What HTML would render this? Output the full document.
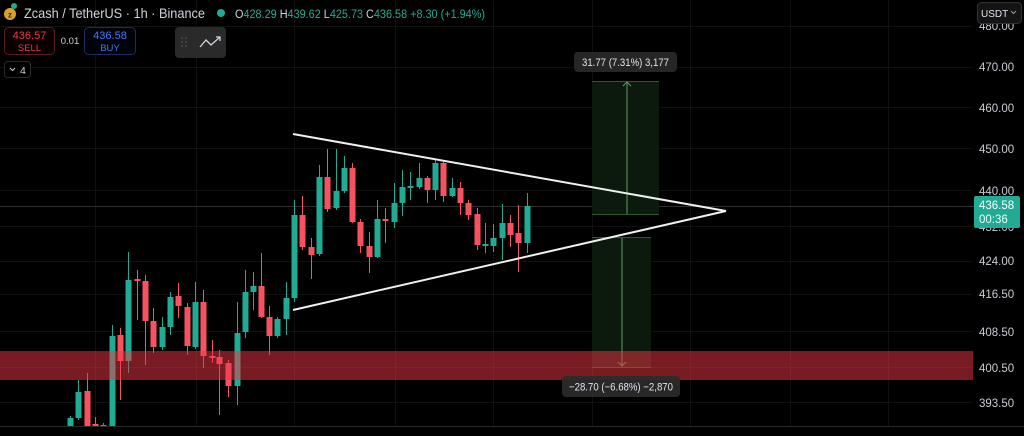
<!DOCTYPE html>
<html><head><meta charset="utf-8">
<style>
html,body{margin:0;padding:0;background:#000;}
body{width:1024px;height:436px;overflow:hidden;position:relative;font-family:"Liberation Sans",sans-serif;}
svg{position:absolute;left:0;top:0;}
.t{font-family:"Liberation Sans",sans-serif;}
</style></head>
<body>
<svg width="1024" height="436" viewBox="0 0 1024 436" xmlns="http://www.w3.org/2000/svg">
<rect width="1024" height="436" fill="#000"/>
<!-- grid -->
<g stroke="#101010" stroke-width="1">
<line x1="95.5" y1="0" x2="95.5" y2="426"/><line x1="196.5" y1="0" x2="196.5" y2="426"/>
<line x1="294.5" y1="0" x2="294.5" y2="426"/><line x1="395.5" y1="0" x2="395.5" y2="426"/>
<line x1="493.5" y1="0" x2="493.5" y2="426"/><line x1="592.5" y1="0" x2="592.5" y2="426"/>
<line x1="690.5" y1="0" x2="690.5" y2="426"/><line x1="790.5" y1="0" x2="790.5" y2="426"/>
<line x1="888.5" y1="0" x2="888.5" y2="426"/>
<line x1="0" y1="26.5" x2="972" y2="26.5"/><line x1="0" y1="67.5" x2="972" y2="67.5"/>
<line x1="0" y1="107.5" x2="972" y2="107.5"/><line x1="0" y1="148.5" x2="972" y2="148.5"/>
<line x1="0" y1="190.5" x2="972" y2="190.5"/><line x1="0" y1="226.5" x2="972" y2="226.5"/>
<line x1="0" y1="261.5" x2="972" y2="261.5"/><line x1="0" y1="294.5" x2="972" y2="294.5"/>
<line x1="0" y1="331.5" x2="972" y2="331.5"/><line x1="0" y1="367.5" x2="972" y2="367.5"/>
<line x1="0" y1="402.5" x2="972" y2="402.5"/>
</g>
<!-- price line -->
<line x1="0" y1="206.5" x2="974" y2="206.5" stroke="#2e2e2e" stroke-width="1"/>
<!-- candles -->
<g id="c"></g>
<!-- measure boxes -->
<rect x="592" y="81" width="67" height="133" fill="#0b1a0c"/>
<line x1="592" y1="81.5" x2="659" y2="81.5" stroke="#2c5a30"/>
<line x1="592" y1="214.5" x2="659" y2="214.5" stroke="#2c5a30"/>
<line x1="627" y1="82" x2="627" y2="214" stroke="#5e9a66"/>
<polyline points="623,86 627,82 631,86" fill="none" stroke="#5e9a66"/>
<rect x="592" y="237" width="59" height="130" fill="#0b1a0c"/>
<line x1="592" y1="237.5" x2="651" y2="237.5" stroke="#2c5a30"/>
<line x1="592" y1="367.5" x2="651" y2="367.5" stroke="#2c5a30"/>
<line x1="622" y1="238" x2="622" y2="366" stroke="#5e9a66"/>
<polyline points="618,362 622,366 626,362" fill="none" stroke="#5e9a66"/>
<!-- red zone -->
<rect x="0" y="351" width="973" height="29" fill="rgba(242,54,69,0.5)"/>
<!-- triangle -->
<line x1="293" y1="134" x2="726" y2="211" stroke="#f0f0f0" stroke-width="2"/>
<line x1="293" y1="310" x2="726" y2="211" stroke="#f0f0f0" stroke-width="2"/>
<!-- measure labels -->
<rect x="574" y="52" width="103" height="20" rx="4" fill="#262626"/>
<text x="582" y="66" font-size="11" fill="#e0e3eb" class="t" textLength="87" lengthAdjust="spacingAndGlyphs">31.77 (7.31%) 3,177</text>
<rect x="562" y="376" width="118" height="21" rx="4" fill="#2b2b2b" fill-opacity="0.92"/>
<text x="569" y="390.5" font-size="11" fill="#e0e3eb" class="t" textLength="104" lengthAdjust="spacingAndGlyphs">−28.70 (−6.68%) −2,870</text>
<!-- bottom axis line -->
<line x1="0" y1="426.5" x2="1024" y2="426.5" stroke="#2a2a2a"/>
<!-- price axis -->
<g font-size="11.5" fill="#c9ccd4" class="t">
<text x="979" y="30">480.00</text>
<text x="979" y="71">470.00</text>
<text x="979" y="112">460.00</text>
<text x="979" y="153">450.00</text>
<text x="979" y="195">440.00</text>
<text x="979" y="231">432.00</text>
<text x="979" y="265">424.00</text>
<text x="979" y="298">416.50</text>
<text x="979" y="336">408.50</text>
<text x="979" y="372">400.50</text>
<text x="979" y="407">393.50</text>
</g>
<rect x="974" y="196" width="46" height="32" rx="2" fill="#22ab94"/>
<text x="979" y="209" font-size="11.5" fill="#fff" class="t">436.58</text>
<text x="979" y="223" font-size="11.5" fill="#e8fff9" class="t">00:36</text>
<rect x="977.5" y="2.5" width="44" height="21" rx="4" fill="#141414" stroke="#333"/>
<text x="981" y="17" font-size="10" fill="#e0e3eb" class="t">USDT</text>
<polyline points="1011,11 1013.5,13.5 1016,11" fill="none" stroke="#999" stroke-width="1"/>
<!-- header -->
<circle cx="10" cy="14" r="6" fill="#d7a32a"/>
<circle cx="14" cy="6" r="3" fill="#22ab94"/>
<text x="10" y="17.5" text-anchor="middle" font-size="8" fill="#3a2a00" font-weight="bold" class="t">z</text>
<text x="24" y="18" font-size="14" fill="#d1d4dc" class="t" textLength="181" lengthAdjust="spacingAndGlyphs">Zcash / TetherUS · 1h · Binance</text>
<circle cx="221" cy="13" r="4" fill="#22ab94"/>
<g font-size="11.5" class="t">
<text x="235" y="18" textLength="250" lengthAdjust="spacingAndGlyphs"><tspan fill="#d1d4dc">O</tspan><tspan fill="#22ab94">428.29 </tspan><tspan fill="#d1d4dc">H</tspan><tspan fill="#22ab94">439.62 </tspan><tspan fill="#d1d4dc">L</tspan><tspan fill="#22ab94">425.73 </tspan><tspan fill="#d1d4dc">C</tspan><tspan fill="#22ab94">436.58 +8.30 (+1.94%)</tspan></text>
</g>
<rect x="4.5" y="27.5" width="50" height="27" rx="4" fill="#0a0000" stroke="#5a1e22"/>
<text x="29.5" y="39" text-anchor="middle" font-size="11" fill="#f23645" class="t">436.57</text>
<text x="29.5" y="51" text-anchor="middle" font-size="9.5" fill="#f23645" class="t">SELL</text>
<text x="70" y="44" text-anchor="middle" font-size="9.5" fill="#d1d4dc" class="t">0.01</text>
<rect x="84.5" y="27.5" width="51" height="27" rx="4" fill="#00030a" stroke="#1f2d5c"/>
<text x="110" y="39" text-anchor="middle" font-size="11" fill="#3d7bff" class="t">436.58</text>
<text x="110" y="51" text-anchor="middle" font-size="9.5" fill="#3d7bff" class="t">BUY</text>
<rect x="175" y="27" width="51" height="31" rx="4" fill="#2a2a2a"/>
<g fill="#555"><circle cx="182" cy="38" r="0.9"/><circle cx="186" cy="38" r="0.9"/><circle cx="182" cy="42" r="0.9"/><circle cx="186" cy="42" r="0.9"/><circle cx="182" cy="46" r="0.9"/><circle cx="186" cy="46" r="0.9"/></g>
<polyline points="200,47 206,40 211,45 220,37" fill="none" stroke="#d1d4dc" stroke-width="1.3"/>
<polyline points="216,37 220,37 220,41" fill="none" stroke="#d1d4dc" stroke-width="1.3"/>
<rect x="4.5" y="61.5" width="26" height="16" rx="3" fill="#000" stroke="#2a2a2a"/>
<polyline points="10,68 12.5,70.5 15,68" fill="none" stroke="#d1d4dc" stroke-width="1"/>
<text x="20" y="74" font-size="10.5" fill="#d1d4dc" class="t">4</text>
</svg>
<script>
var d=[
[70,418,426,416,426,1],[78,392,418,380,420,1],[87,391,426,373,426,0],[95,424,426,417,426,0],[103,425,426,423,426,1],
[112,336,426,325,426,1],[120,335,361,328,400,0],[128,280,361,252,373,1],[137,279,281,270,320,0],[145,281,321,275,365,0],
[153,321,347,308,353,0],[162,327,347,317,350,1],[170,297,327,292,335,1],[178,296,306,283,318,0],[187,307,346,303,355,0],
[195,302,347,282,349,1],[203,302,356,290,368,0],[212,356,358,340,363,0],[219,357,364,350,415,0],[228,363,386,360,397,0],
[237,333,386,302,405,1],[245,292,332,270,338,1],[253,286,292,272,310,1],[261,286,317,253,318,0],[269,317,336,306,355,0],
[277,319,336,317,338,1],[286,298,319,282,335,1],[294,215,298,200,302,1],[302,215,247,196,250,0],[311,247,255,238,279,0],
[319,177,254,165,256,1],[327,177,209,149,212,0],[336,191,208,149,210,1],[344,168,191,156,193,1],[352,168,222,163,223,0],
[360,222,246,219,253,0],[369,246,257,232,273,0],[377,219,257,200,258,1],[385,219,221,208,243,0],[394,203,222,183,228,1],
[402,187,203,170,216,1],[410,186,188,172,200,1],[419,178,187,163,189,1],[427,178,190,176,203,0],[435,163,190,160,200,1],
[443,163,196,161,202,0],[452,188,196,178,197,1],[460,188,203,182,215,0],[468,203,215,200,220,0],[477,214,245,208,250,0],
[485,244,246,223,253,1],[493,238,246,224,252,1],[502,223,238,204,260,1],[510,223,235,215,247,0],[518,233,243,205,272,0],
[527,206,243,193,253,1]];
var g=document.getElementById('c'),h='';
d.forEach(function(c){var col=c[5]?'#22ab94':'#f7525f';
h+='<line x1="'+(c[0]+0.5)+'" y1="'+c[3]+'" x2="'+(c[0]+0.5)+'" y2="'+c[4]+'" stroke="'+col+'" stroke-width="1"/>';
h+='<rect x="'+(c[0]-2.5)+'" y="'+c[1]+'" width="6" height="'+Math.max(1,c[2]-c[1])+'" fill="'+col+'"/>';});
g.innerHTML=h;
</script>
</body></html>
